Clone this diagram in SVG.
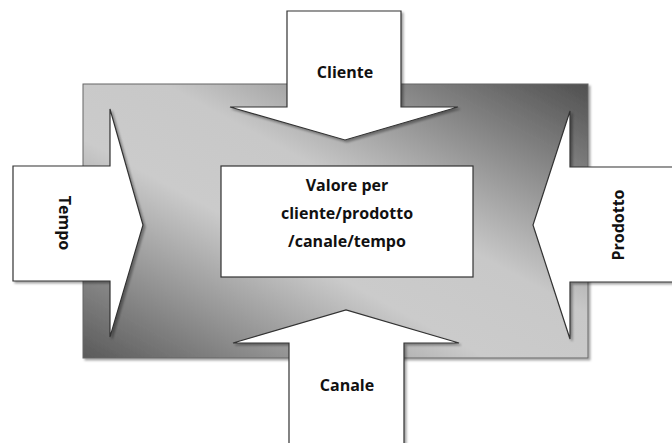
<svg xmlns="http://www.w3.org/2000/svg" width="672" height="443" viewBox="0 0 672 443">
<style>
.arrow{fill:#fff;stroke:#333;stroke-width:1.2;stroke-linejoin:miter}
.lbl{font-family:"Open Sans","Liberation Sans",sans-serif;font-weight:bold;font-size:16px;fill:#111;text-anchor:middle}
</style>
<defs>
<linearGradient id="g" x1="1" y1="0" x2="0" y2="1">
<stop offset="0" stop-color="#505050"/>
<stop offset="0.42" stop-color="#c8c8c8"/>
<stop offset="0.6" stop-color="#cbcbcb"/>
<stop offset="1" stop-color="#5a5a5a"/>
</linearGradient>
<filter id="sh" x="-10%" y="-10%" width="120%" height="120%">
<feDropShadow dx="2" dy="2" stdDeviation="1.2" flood-color="#000" flood-opacity="0.35"/>
</filter>
</defs>
<g id="background">
<rect x="83" y="84" width="505" height="274" fill="url(#g)" stroke="#666" stroke-width="1" filter="url(#sh)"/>
</g>
<g id="connectors">
<polygon id="tempo-arrow" class="arrow" filter="url(#sh)" points="13,166 110,166 110,109 143,225 110,337 110,281 13,281"/>
<polygon id="prodotto-arrow" class="arrow" filter="url(#sh)" points="680,167 570,167 570,111 533,225 570,339 570,282 680,282"/>
<polygon id="cliente-arrow" class="arrow" filter="url(#sh)" points="287,11 401,11 401,107 458,107 345,140 230,107 287,107"/>
<polygon id="canale-arrow" class="arrow" filter="url(#sh)" points="289,450 289,343 233,343 346,310 459,343 404,343 404,450"/>
</g>
<g id="center">
<rect x="221" y="166" width="252" height="111" fill="#fff" stroke="#333" stroke-width="1.2"/>
<text class="lbl" x="347" y="191">Valore per</text>
<text class="lbl" x="347" y="219">cliente/prodotto</text>
<text class="lbl" x="347" y="247">/canale/tempo</text>
</g>
<g id="cliente"><text class="lbl" x="345" y="78">Cliente</text></g>
<g id="canale"><text class="lbl" x="347" y="391">Canale</text></g>
<g id="tempo"><text class="lbl" transform="translate(59,223) rotate(90)">Tempo</text></g>
<g id="prodotto"><text class="lbl" transform="translate(624,225) rotate(-90)">Prodotto</text></g>
</svg>
